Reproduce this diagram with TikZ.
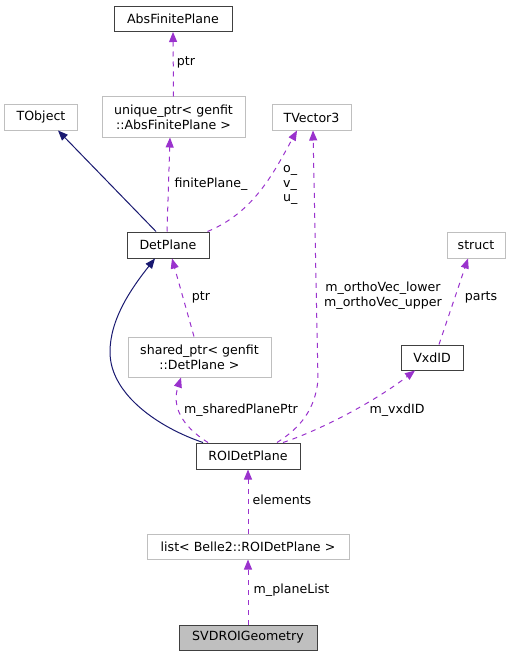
\documentclass[tikz,border=0pt]{standalone}
\usepackage{fontspec}
\setmainfont{DejaVu Sans}
\usetikzlibrary{arrows.meta}
\definecolor{usecol}{HTML}{9A32CD}
\definecolor{inhcol}{HTML}{191970}
\definecolor{extcol}{HTML}{BFBFBF}
\begin{document}
\begin{tikzpicture}[x=1bp, y=-1bp, font=\fontsize{12.6bp}{14.7bp}\selectfont,
        box/.style={draw, line width=1bp, inner sep=0pt, align=center, minimum height=25bp},
        cls/.style={box, draw=black!75},
        ext/.style={box, draw=extcol},
        uses/.style={usecol, line width=1bp, dash pattern=on 5bp off 5bp, -{Triangle[length=10bp, width=8bp]}},
        inherit/.style={inhcol, line width=1bp, -{Triangle[length=10bp, width=8bp]}},
        lbl/.style={text=black, inner sep=2pt, align=left}]
        \useasboundingbox (0,0) rectangle (511,656);
        % classes
        \node[cls, minimum width=118bp] (abs) at (173,19) {AbsFinitePlane};
        \node[ext, minimum width=72bp] (tobj) at (41,117.5) {TObject};
        \node[ext, minimum width=143bp, minimum height=40bp] (uniq) at (173.5,117) {unique\_ptr< genfit\\::AbsFinitePlane >};
        \node[ext, minimum width=79bp] (tvec) at (311.5,117.5) {TVector3};
        \node[cls, minimum width=82bp, minimum height=26bp] (det) at (168,245) {DetPlane};
        \node[ext, minimum width=58bp, minimum height=26bp] (strct) at (476,245) {struct};
        \node[ext, minimum width=143bp, minimum height=40bp] (shrd) at (199.5,357) {shared\_ptr< genfit\\::DetPlane >};
        \node[cls, minimum width=62bp] (vxd) at (432,357.5) {VxdID};
        \node[cls, minimum width=104bp, minimum height=26bp] (roi) at (248,456) {ROIDetPlane};
        \node[ext, minimum width=202bp] (lst) at (248,546.5) {list< Belle2::ROIDetPlane >};
        \node[cls, fill=extcol, minimum width=138bp] (svd) at (248,637.5) {SVDROIGeometry};
        % connectors
        \draw[uses] (uniq.north) -- (abs.south);
        \node[lbl] (ptrtop) at (186,62) {ptr};
        \draw[uses] ([xshift=-1bp]det.north) -- ([xshift=-3.5bp]uniq.south);
        \node[lbl] (fp) at (211,184) {finitePlane\_};
        \draw[uses] ([xshift=-2bp]det.north east) .. controls (255,212) and (275,170) .. ([xshift=-14.5bp]tvec.south);
        \node[lbl, anchor=west] (ovu) at (281,185) {o\_\\v\_\\u\_};
        \draw[inherit] ([xshift=-12bp]det.north) -- ([xshift=17bp]tobj.south);
        \draw[uses] ([xshift=29bp]roi.north) .. controls (300,428) and (315,410) .. (318,380) -- ([xshift=1.5bp]tvec.south);
        \node[lbl, align=center] (ortho) at (383,296) {m\_orthoVec\_lower\\m\_orthoVec\_upper};
        \draw[uses] ([xshift=7bp]vxd.north) -- ([xshift=-8bp]strct.south);
        \node[lbl] (prts) at (481,297) {parts};
        \draw[inherit] ([xshift=-45bp]roi.north) .. controls (160,428) and (110,395) .. (110,352)
            .. controls (110,320) and (130,290) .. ([xshift=-13bp]det.south);
        \draw[uses] ([xshift=-5.5bp]shrd.north) -- ([xshift=4bp]det.south);
        \node[lbl] (ptrmid) at (201,297) {ptr};
        \draw[uses] ([xshift=-40bp]roi.north) .. controls (180,425) and (172,405) .. ([xshift=-18.5bp]shrd.south);
        \node[lbl] (spp) at (241,410) {m\_sharedPlanePtr};
        \draw[uses] ([xshift=35bp]roi.north) .. controls (315,432) and (370,405) .. ([xshift=-17bp]vxd.south);
        \node[lbl] (vxdlbl) at (397,410) {m\_vxdID};
        \draw[uses] (lst.north) -- (roi.south);
        \node[lbl] (elem) at (282,500) {elements};
        \draw[uses] (svd.north) -- (lst.south);
        \node[lbl] (pl) at (291.5,590) {m\_planeList};
\end{tikzpicture}
\end{document}
